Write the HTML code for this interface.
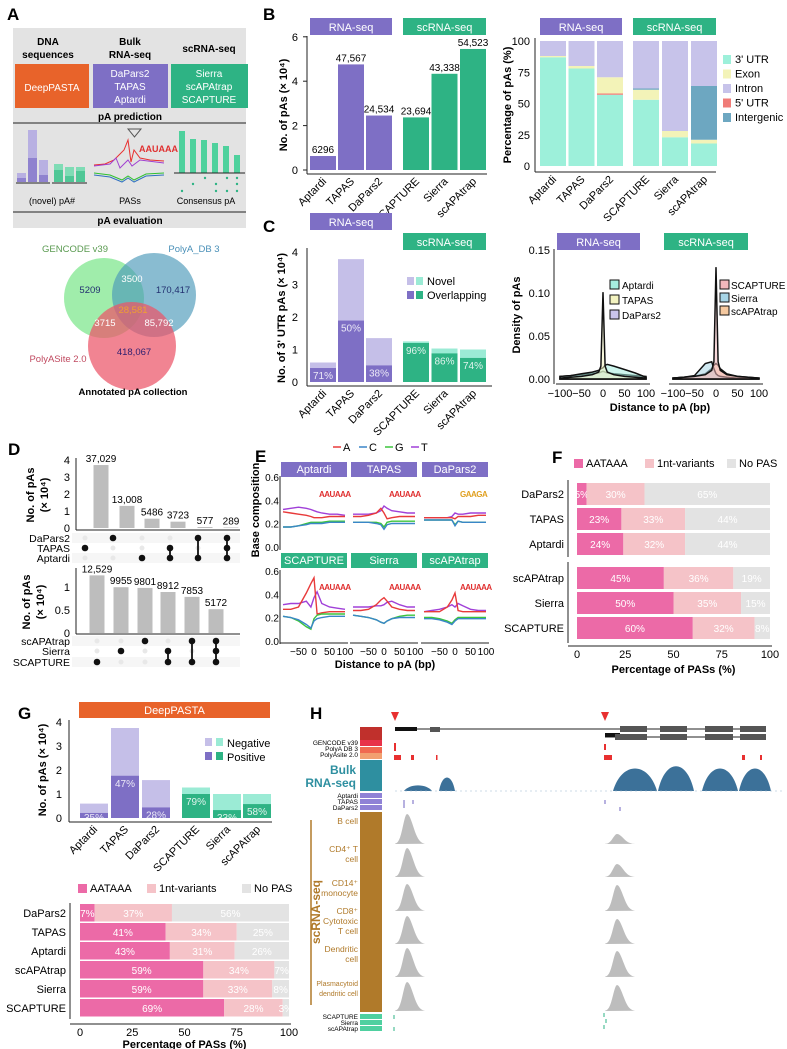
<!DOCTYPE html>
<html><head><meta charset="utf-8">
<style>
html,body{margin:0;padding:0;background:#fff;}
svg{display:block;font-family:"Liberation Sans",Arial,sans-serif;}
</style></head>
<body>
<svg id="fig" width="787" height="1049" viewBox="0 0 787 1049" xmlns="http://www.w3.org/2000/svg">
  <g>
    <text x="7" y="20" font-size="17" font-weight="bold">A</text>
    <rect x="13" y="28" width="233" height="200" fill="#e3e3e3"/>
    <text x="48" y="45" font-size="10" font-weight="bold" text-anchor="middle">DNA</text>
    <text x="48" y="58" font-size="10" font-weight="bold" text-anchor="middle">sequences</text>
    <text x="130" y="45" font-size="10" font-weight="bold" text-anchor="middle">Bulk</text>
    <text x="130" y="58" font-size="10" font-weight="bold" text-anchor="middle">RNA-seq</text>
    <text x="209" y="52" font-size="10" font-weight="bold" text-anchor="middle">scRNA-seq</text>
    <rect x="15" y="64" width="74" height="44" fill="#E8632A"/>
    <text x="52" y="91" font-size="10" fill="#fff" text-anchor="middle">DeepPASTA</text>
    <rect x="93" y="64" width="75" height="44" fill="#7E6FC5"/>
    <text x="130" y="77" font-size="10" fill="#fff" text-anchor="middle">DaPars2</text>
    <text x="130" y="90" font-size="10" fill="#fff" text-anchor="middle">TAPAS</text>
    <text x="130" y="103" font-size="10" fill="#fff" text-anchor="middle">Aptardi</text>
    <rect x="171" y="64" width="77" height="44" fill="#2EB384"/>
    <text x="209" y="77" font-size="10" fill="#fff" text-anchor="middle">Sierra</text>
    <text x="209" y="90" font-size="10" fill="#fff" text-anchor="middle">scAPAtrap</text>
    <text x="209" y="103" font-size="10" fill="#fff" text-anchor="middle">SCAPTURE</text>
    <text x="130" y="120" font-size="10" font-weight="bold" text-anchor="middle">pA prediction</text>
    <line x1="13" y1="123" x2="246" y2="123" stroke="#222" stroke-width="1"/>
    <line x1="13" y1="212" x2="246" y2="212" stroke="#222" stroke-width="1"/>
    <text x="130" y="224" font-size="10" font-weight="bold" text-anchor="middle">pA evaluation</text>
    <g>
      <rect x="17" y="173" width="9" height="9" fill="#b8b0e2"/><rect x="17" y="178" width="9" height="4" fill="#8f82cf"/>
      <rect x="28" y="130" width="9" height="52" fill="#b8b0e2"/><rect x="28" y="158" width="9" height="24" fill="#8f82cf"/>
      <rect x="39" y="160" width="9" height="22" fill="#b8b0e2"/><rect x="39" y="175" width="9" height="7" fill="#8f82cf"/>
      <rect x="54" y="164" width="9" height="18" fill="#7fdcb5"/><rect x="54" y="170" width="9" height="12" fill="#4fc796"/>
      <rect x="65" y="167" width="9" height="15" fill="#7fdcb5"/><rect x="65" y="176" width="9" height="6" fill="#4fc796"/>
      <rect x="76" y="167" width="9" height="15" fill="#7fdcb5"/><rect x="76" y="171" width="9" height="11" fill="#4fc796"/>
      <line x1="16" y1="183" x2="50" y2="183" stroke="#222"/><line x1="52" y1="183" x2="87" y2="183" stroke="#222"/>
      <text x="52" y="204" font-size="9" text-anchor="middle">(novel) pA#</text>
    </g>
    <g>
      <path d="M128 129 L141 129 L134.5 137 Z" fill="none" stroke="#555"/>
      <path d="M94 165 L105 164 L114 160 L118 156 L124 150 L128 140 L131 162 L134 150 L140 158 L150 160 L164 161" fill="none" stroke="#e83030" stroke-width="1"/>
      <path d="M94 166 L110 164 L116 158 L120 168 L128 160 L132 166 L140 160 L164 163" fill="none" stroke="#a040d0" stroke-width="1"/>
      <path d="M94 173 L110 175 L122 180 L128 176 L134 180 L146 174 L164 173" fill="none" stroke="#30c030" stroke-width="1"/>
      <path d="M94 175 L110 177 L122 182 L128 178 L134 182 L146 176 L164 175" fill="none" stroke="#3070c0" stroke-width="1"/>
      <text x="139" y="152" font-size="9" font-weight="bold" fill="#e03030">AAUAAA</text>
      <text x="130" y="204" font-size="9" text-anchor="middle">PASs</text>
    </g>
    <g>
      <rect x="179" y="131" width="6" height="42" fill="#4fd19d"/><rect x="190" y="139" width="6" height="34" fill="#4fd19d"/>
      <rect x="201" y="140" width="6" height="33" fill="#4fd19d"/><rect x="212" y="143" width="6" height="30" fill="#4fd19d"/>
      <rect x="223" y="146" width="6" height="27" fill="#4fd19d"/><rect x="234" y="155" width="6" height="18" fill="#4fd19d"/>
      <line x1="174" y1="173" x2="245" y2="173" stroke="#222"/>
      <g fill="#2EB384"><circle cx="205" cy="178" r="1.2"/><circle cx="227" cy="178" r="1.2"/><circle cx="237" cy="178" r="1.2"/><circle cx="193" cy="184" r="1.2"/><circle cx="216" cy="184" r="1.2"/><circle cx="237" cy="184" r="1.2"/><circle cx="182" cy="191" r="1.2"/><circle cx="216" cy="191" r="1.2"/><circle cx="227" cy="191" r="1.2"/><circle cx="237" cy="191" r="1.2"/></g>
      <text x="206" y="204" font-size="9" text-anchor="middle">Consensus pA</text>
    </g>
    <g>
      <circle cx="104" cy="298" r="40" fill="#8FEA9C" fill-opacity="0.85"/>
      <circle cx="154" cy="295" r="42" fill="#4A98B8" fill-opacity="0.65"/>
      <circle cx="132" cy="346" r="44" fill="#EC5468" fill-opacity="0.72"/>
      <text x="75" y="252" font-size="9.5" fill="#5a9a50" text-anchor="middle">GENCODE v39</text>
      <text x="194" y="252" font-size="9.5" fill="#4a90b8" text-anchor="middle">PolyA_DB 3</text>
      <text x="58" y="362" font-size="9.5" fill="#c04a60" text-anchor="middle">PolyASite 2.0</text>
      <text x="90" y="293" font-size="9.5" fill="#223070" text-anchor="middle">5209</text>
      <text x="132" y="282" font-size="9.5" fill="#fff" text-anchor="middle">3500</text>
      <text x="173" y="293" font-size="9.5" fill="#223070" text-anchor="middle">170,417</text>
      <text x="133" y="313" font-size="9.5" fill="#f0a030" text-anchor="middle">28,581</text>
      <text x="105" y="326" font-size="9.5" fill="#fff" text-anchor="middle">3715</text>
      <text x="159" y="326" font-size="9.5" fill="#fff" text-anchor="middle">85,792</text>
      <text x="134" y="355" font-size="9.5" fill="#302070" text-anchor="middle">418,067</text>
      <text x="133" y="395" font-size="9.5" font-weight="bold" text-anchor="middle">Annotated pA collection</text>
    </g>
  </g>
  <g id="dyn"></g>
</svg>
<script>
const NS='http://www.w3.org/2000/svg';
const root=document.getElementById('dyn');
function mk(tag,a,p){const e=document.createElementNS(NS,tag);for(const k in a)e.setAttribute(k,a[k]);(p||root).appendChild(e);return e;}
function tx(x,y,s,a,p){const e=mk('text',Object.assign({x:x,y:y},a||{}),p);e.textContent=s;return e;}

// ---------- data ----------
const methods=['Aptardi','TAPAS','DaPars2','SCAPTURE','Sierra','scAPAtrap'];
const bCounts=[6296,47567,24534,23694,43338,54523];
const bCountLabels=['6296','47,567','24,534','23,694','43,338','54,523'];
const bTicks=[0,2,4,6];
const regionNames=["3' UTR","5' UTR",'Exon','Intergenic','Intron'];
const regUTR3=[87,78,57,53,23,18];
const regUTR5=[0,0,1,0,0,0];
const regExon=[1,2,13,8,5,3];
const regInter=[0,0,0,1,0,43];
const regIntron=[12,20,29,38,72,36];
const pctTicks=[0,25,50,75,100];
const cTotal=[0.6,3.78,1.35,1.25,1.03,1.0];
const cOverlap=[0.43,1.89,0.51,1.2,0.88,0.74];
const cPctLabels=['71%','50%','38%','96%','86%','74%'];
const cTicks=[0,1,2,3,4];
const densX=[-100,-75,-50,-25,-10,-5,0,5,10,25,50,75,100];
const densAptardi=[0.003,0.004,0.006,0.008,0.010,0.012,0.013,0.016,0.017,0.015,0.011,0.007,0.002];
const densTAPAS=[0.001,0.002,0.003,0.005,0.008,0.015,0.101,0.015,0.008,0.005,0.003,0.002,0.001];
const densDaPars2=[0.003,0.004,0.005,0.006,0.007,0.008,0.009,0.008,0.007,0.006,0.005,0.004,0.003];
const densSCAPTURE=[0.001,0.002,0.003,0.005,0.010,0.020,0.130,0.020,0.010,0.005,0.003,0.002,0.001];
const densSierra=[0.001,0.002,0.004,0.018,0.020,0.012,0.006,0.004,0.003,0.002,0.001,0.001,0.000];
const densScAPAtrap=[0.001,0.002,0.003,0.006,0.012,0.016,0.018,0.016,0.012,0.006,0.003,0.002,0.001];
const densTicks=[0,0.05,0.10,0.15];
const distTicks=[-100,-50,0,50,100];
const upBulkCounts=[37029,13008,5486,3723,577,289];
const upBulkLabels=['37,029','13,008','5486','3723','577','289'];
const upBulkRows=['DaPars2','TAPAS','Aptardi'];
const upBulkSets=[[1],[0],[2],[1,2],[0,2],[0,1,2]];
const upScCounts=[12529,9955,9801,8912,7853,5172];
const upScLabels=['12,529','9955','9801','8912','7853','5172'];
const upScRows=['scAPAtrap','Sierra','SCAPTURE'];
const upScSets=[[2],[1],[0],[1,2],[0,2],[0,1,2]];
const baseX=[-100,-75,-50,-25,-10,0,10,25,50,75,100];
const baseA=[[0.31,0.30,0.29,0.28,0.27,0.26,0.26,0.26,0.27,0.27,0.27],[0.27,0.27,0.28,0.30,0.34,0.30,0.25,0.26,0.27,0.27,0.27],[0.26,0.26,0.26,0.26,0.26,0.25,0.27,0.27,0.27,0.28,0.28],[0.28,0.28,0.30,0.42,0.50,0.55,0.24,0.25,0.26,0.26,0.26],[0.27,0.27,0.28,0.32,0.36,0.38,0.35,0.30,0.28,0.27,0.27],[0.26,0.26,0.26,0.30,0.36,0.42,0.27,0.26,0.26,0.26,0.26]];
const baseC=[[0.18,0.18,0.19,0.20,0.21,0.21,0.21,0.21,0.22,0.22,0.22],[0.22,0.22,0.22,0.21,0.20,0.16,0.20,0.21,0.21,0.21,0.21],[0.24,0.24,0.24,0.24,0.24,0.19,0.23,0.22,0.22,0.22,0.22],[0.22,0.21,0.19,0.15,0.12,0.18,0.20,0.21,0.22,0.22,0.22],[0.23,0.22,0.21,0.19,0.17,0.16,0.18,0.20,0.21,0.21,0.21],[0.20,0.20,0.19,0.17,0.15,0.18,0.20,0.20,0.20,0.20,0.20]];
const baseG=[[0.18,0.18,0.19,0.21,0.22,0.22,0.22,0.22,0.23,0.23,0.23],[0.22,0.22,0.22,0.22,0.21,0.18,0.22,0.23,0.23,0.23,0.23],[0.24,0.24,0.24,0.24,0.24,0.20,0.23,0.22,0.22,0.22,0.22],[0.22,0.21,0.18,0.13,0.11,0.20,0.23,0.24,0.24,0.24,0.24],[0.23,0.22,0.21,0.19,0.17,0.16,0.18,0.20,0.22,0.23,0.23],[0.21,0.21,0.20,0.18,0.16,0.19,0.21,0.21,0.21,0.21,0.21]];
const baseT=[[0.33,0.34,0.35,0.34,0.33,0.32,0.31,0.30,0.29,0.29,0.28],[0.29,0.29,0.29,0.30,0.32,0.36,0.34,0.32,0.31,0.30,0.30],[0.26,0.26,0.26,0.26,0.27,0.30,0.29,0.29,0.30,0.30,0.30],[0.32,0.33,0.33,0.35,0.30,0.38,0.43,0.33,0.30,0.29,0.28],[0.30,0.30,0.30,0.31,0.31,0.32,0.34,0.35,0.32,0.30,0.30],[0.26,0.27,0.28,0.30,0.32,0.30,0.33,0.31,0.28,0.27,0.27]];
const baseTicks=[0,0.2,0.4,0.6];
const eOrder=['Aptardi','TAPAS','DaPars2','SCAPTURE','Sierra','scAPAtrap'];
const fRows=['DaPars2','TAPAS','Aptardi','scAPAtrap','Sierra','SCAPTURE'];
const fAAT=[5,23,24,45,50,60];
const fVar=[30,33,32,36,35,32];
const fNo=[65,44,44,19,15,8];
const gTotal=[0.6,3.75,1.58,1.27,1.0,1.0];
const gPositive=[0.21,1.76,0.44,1.0,0.33,0.58];
const gPctLabels=['35%','47%','28%','79%','33%','58%'];
const gRows=['DaPars2','TAPAS','Aptardi','scAPAtrap','Sierra','SCAPTURE'];
const gAAT=[7,41,43,59,59,69];
const gVar=[37,34,31,34,33,28];
const gNo=[56,25,26,7,8,3];
const hCellTypes=['B cell','CD4+ T cell','CD14+ monocyte','CD8+ Cytotoxic T cell','Dendritic cell','Plasmacytoid dendritic cell'];
const hPeak1=[30,29,27,28,29,29];
const hPeak2=[10,13,26,25,26,26];
const hBulk=[0.25,0.6,1.0,1.1,1.0,1.0];

const PUR='#7E6FC5',GRN='#2EB384',PUR_L='#C5BFE8',GRN_L='#9BEBD5';
const isBulk=i=>i<3;

function strip(x,y,w,h,label,color,name){
  const r=mk('rect',{x:x,y:y,width:w,height:h,fill:color});
  
  
  const t=tx(x+w/2,y+h-4,label,{'font-size':11,fill:'#fff','text-anchor':'middle'});
  
  
}
function yAxis(x,y1,y2,name){
  const l=mk('line',{x1:x,y1:y1,x2:x,y2:y2,stroke:'#222','stroke-width':1});
  
  
}
function xAxis(y,x1,x2,name){
  const l=mk('line',{x1:x1,y1:y,x2:x2,y2:y,stroke:'#222','stroke-width':1});
  
  
}
function rotLabel(x,y,s,name,size){
  const t=tx(x,y,s,{'font-size':size||11,'text-anchor':'end',transform:'rotate(-45 '+x+' '+y+')'});
  
  
}
function vTitle(x,y,s,name,size){
  const t=tx(x,y,s,{'font-size':size||11,'font-weight':'bold','text-anchor':'middle',transform:'rotate(-90 '+x+' '+y+')'});
  
  
}
function letter(x,y,s){
  const t=tx(x,y,s,{'font-size':17,'font-weight':'bold'});
  
  
}

// ---------- Panel B left ----------
letter(263,20,'B');
const barX=i=>isBulk(i)?310+28*i:403+28.5*(i-3);
const yB=v=>170-v/1e4*22.2;
strip(310,18,82,17,'RNA-seq',PUR,'strip-b-rnaseq');
strip(403,18,83,17,'scRNA-seq',GRN,'strip-b-scrnaseq');
yAxis(307,36,174,'b-y-axis');
xAxis(174,307,487,'b-x-axis');
bTicks.forEach(v=>{
  const yy=yB(v*1e4);
  const t=tx(298,yy+4,String(v),{'font-size':11,'text-anchor':'end'});
  
  
  const k=mk('line',{x1:303,y1:yy,x2:307,y2:yy,stroke:'#222'});
  
  
});
methods.forEach((m,i)=>{
  const r=mk('rect',{x:barX(i),y:yB(bCounts[i]),width:26,height:170-yB(bCounts[i]),fill:isBulk(i)?PUR:GRN});
  
  
  const t=tx(barX(i)+13,yB(bCounts[i])-3,bCountLabels[i],{'font-size':10,'text-anchor':'middle'});
  
  
  rotLabel(barX(i)+17,182,m,'b-x-label-'+m.toLowerCase());
});
vTitle(287,105,'No. of pAs (× 10⁴)','b-y-title');

// ---------- Panel B right ----------
const pX=i=>isBulk(i)?540+28.5*i:633+29*(i-3);
const yP=v=>166-v*1.25;
strip(540,18,82,17,'RNA-seq',PUR,'strip-b2-rnaseq');
strip(633,18,83,17,'scRNA-seq',GRN,'strip-b2-scrnaseq');
yAxis(535,38,172,'b2-y-axis');
xAxis(172,535,716,'b2-x-axis');
pctTicks.forEach(v=>{
  const t=tx(530,yP(v)+4,String(v),{'font-size':11,'text-anchor':'end'});
  
  
});
const regCols=['#9DF0DA','#F07C78','#F3F3B8','#6DA7C1','#C7C3EA'];
const regArrs=[regUTR3,regUTR5,regExon,regInter,regIntron];
methods.forEach((m,i)=>{
  let acc=0;
  regArrs.forEach((arr,k)=>{
    const v=arr[i];
    if(v<=0)return;
    const r=mk('rect',{x:pX(i),y:yP(acc+v),width:26,height:v*1.25,fill:regCols[k]});
    
    
    acc+=v;
  });
  rotLabel(pX(i)+17,180,m,'b2-x-label-'+m.toLowerCase());
});
vTitle(511,105,'Percentage of pAs (%)','b2-y-title');
const legOrder=[0,2,4,1,3];
const legNames=["3' UTR",'Exon','Intron',"5' UTR",'Intergenic'];
legOrder.forEach((k,j)=>{
  const r=mk('rect',{x:723,y:55+j*14.5,width:8,height:9,fill:regCols[k]});
  
  
  const t=tx(735,63+j*14.5,legNames[j],{'font-size':11});
  
  
});

// ---------- Panel C left ----------
letter(263,232,'C');
const yC=v=>382-v*32.5;
strip(310,213,82,17,'RNA-seq',PUR,'strip-c-rnaseq');
strip(403,233,83,17,'scRNA-seq',GRN,'strip-c-scrnaseq');
yAxis(307,248,386,'c-y-axis');
xAxis(386,307,492,'c-x-axis');
cTicks.forEach(v=>{
  const t=tx(298,yC(v)+4,String(v),{'font-size':11,'text-anchor':'end'});
  
  
});
methods.forEach((m,i)=>{
  const x=barX(i);
  const r1=mk('rect',{x:x,y:yC(cTotal[i]),width:26,height:382-yC(cTotal[i]),fill:isBulk(i)?PUR_L:GRN_L});
  
  
  const r2=mk('rect',{x:x,y:yC(cOverlap[i]),width:26,height:382-yC(cOverlap[i]),fill:isBulk(i)?PUR:GRN});
  
  
  const t=tx(x+13,Math.min(yC(cOverlap[i])+11,380),cPctLabels[i],{'font-size':10,fill:'#fff','text-anchor':'middle','fill-opacity':0.85});
  
  
  rotLabel(x+17,394,m,'c-x-label-'+m.toLowerCase());
});
vTitle(285,318,'No. of 3\' UTR pAs (× 10⁴)','c-y-title');
[['Novel',PUR_L,GRN_L],['Overlapping',PUR,GRN]].forEach((e,j)=>{
  const a=mk('rect',{x:407,y:277+j*14,width:7,height:8,fill:e[1]});
  
  
  const b=mk('rect',{x:416,y:277+j*14,width:7,height:8,fill:e[2]});
  
  
  const t=tx(427,285+j*14,e[0],{'font-size':11});
  
  
});

// ---------- Panel C right density ----------
strip(557,233,83,17,'RNA-seq',PUR,'strip-c2-rnaseq');
strip(664,233,84,17,'scRNA-seq',GRN,'strip-c2-scrnaseq');
const dX0=[560,673];
const xD=(v,p)=>dX0[p]+(v+100)/200*86;
const yD=v=>379-v/0.15*129;
yAxis(554,249,384,'c2-y-axis');
densTicks.forEach(v=>{
  const t=tx(550,yD(v)+4,v.toFixed(2),{'font-size':11,'text-anchor':'end'});
  
  
});
[0,1].forEach(p=>{
  xAxis(384,dX0[p]-4,dX0[p]+90,'c2-x-axis');
  distTicks.forEach(v=>{
    const t=tx(xD(v,p),397,v<0?'−'+(-v):String(v),{'font-size':11,'text-anchor':'middle'});
    
    
  });
});
function densPath(arr,p,fill,name){
  let d='M'+xD(densX[0],p)+' '+yD(0);
  densX.forEach((x,i)=>{d+=' L'+xD(x,p).toFixed(1)+' '+yD(arr[i]).toFixed(1);});
  d+=' L'+xD(100,p)+' '+yD(0)+' Z';
  const e=mk('path',{d:d,fill:fill,'fill-opacity':0.55,stroke:'#111','stroke-width':1.5});
  
  
}
densPath(densDaPars2,0,'#C9C4EC','density-dapars2');
densPath(densAptardi,0,'#A6EEE0','density-aptardi');
densPath(densTAPAS,0,'#F3F3C0','density-tapas');
densPath(densScAPAtrap,1,'#F5C9A0','density-scapatrap');
densPath(densSierra,1,'#A7D5E6','density-sierra');
densPath(densSCAPTURE,1,'#F2B8BC','density-scapture');
vTitle(520,315,'Density of pAs','c2-y-title');
const dT=tx(660,411,'Distance to pA (bp)',{'font-size':11,'font-weight':'bold','text-anchor':'middle'});


[['Aptardi','#A6EEE0'],['TAPAS','#F3F3C0'],['DaPars2','#C9C4EC']].forEach((e,j)=>{
  const r=mk('rect',{x:610,y:280+j*15,width:9,height:9,fill:e[1],stroke:'#111'});
  
  
  const t=tx(622,289+j*15,e[0],{'font-size':10});
  
  
});
[['SCAPTURE','#F2B8BC'],['Sierra','#A7D5E6'],['scAPAtrap','#F5C9A0']].forEach((e,j)=>{
  const r=mk('rect',{x:720,y:280+j*13,width:9,height:9,fill:e[1],stroke:'#111'});
  
  
  const t=tx(731,289+j*13,e[0],{'font-size':10});
  
  
});

// ---------- Panel D ----------
letter(8,455,'D');
function upset(counts,labels,rows,sets,y0,pxPerUnit,barC,dotC,rowY,ticks,prefix){
  counts.forEach((c,i)=>{
    const h=c/1e4*pxPerUnit;
    const r=mk('rect',{x:barC[i]-7.5,y:y0-h,width:15,height:h,fill:'#BDBDBD'});
    
    
    const t=tx(barC[i],y0-h-3,labels[i],{'font-size':10,'text-anchor':'middle'});
    
    
  });
  ticks.forEach(v=>{
    const t=tx(70,y0-v*pxPerUnit+4,String(v),{'font-size':11,'text-anchor':'end'});
    
    
  });
  rows.forEach((nm,k)=>{
    const bg=mk('rect',{x:72,y:rowY[k]-5,width:168,height:10,fill:k%2?'#fff':'#f6f6f6'});
    
    
    const t=tx(70,rowY[k]+4,nm,{'font-size':10.5,'text-anchor':'end'});
    
    
  });
  sets.forEach((s,i)=>{
    rows.forEach((nm,k)=>{
      const on=s.indexOf(k)>=0;
      const c=mk('circle',{cx:dotC[i],cy:rowY[k],r:on?3.3:2.5,fill:on?'#111':'#e8e8e8'});
      
      
    });
    if(s.length>1){
      const ys=s.map(k=>rowY[k]);
      const l=mk('line',{x1:dotC[i],x2:dotC[i],y1:Math.min(...ys),y2:Math.max(...ys),stroke:'#111','stroke-width':1.8});
      
      
    }
  });
}
yAxis(76,458,530,'d-upper-y-axis');
xAxis(530,76,240,'d-upper-x-axis');
upset(upBulkCounts,upBulkLabels,upBulkRows,upBulkSets,528,17,[101,127,152,178,205,231],[85,113,142,170,198,227],[538,548,558],[0,1,2,3,4],'upset-bulk');
vTitle(34,495,'No. of pAs','d-upper-y-title');
vTitle(48,495,'(× 10⁴)','d-upper-y-title-2');
yAxis(76,568,634,'d-lower-y-axis');
xAxis(634,76,240,'d-lower-x-axis');
upset(upScCounts,upScLabels,upScRows,upScSets,633,46,[97,121,145,168,192,216],[97,121,145,168,192,216],[641,651,662],[0,0.5,1],'upset-sc');
vTitle(30,602,'No. of pAs','d-lower-y-title');
vTitle(44,602,'(× 10⁴)','d-lower-y-title-2');

// ---------- Panel E ----------
letter(255,462,'E');
const eCols={A:'#E83A3A',C:'#3A86C8',G:'#3CC43C',T:'#A040D8'};
['A','C','G','T'].forEach((b,j)=>{
  const l=mk('line',{x1:333+j*26,x2:341+j*26,y1:447,y2:447,stroke:eCols[b],'stroke-width':1.5});
  
  
  const t=tx(343+j*26,451,b,{'font-size':11});
  
  
});
const eX0=[283,353,424];
const eRowZero=[548,642];
const xE=(v,c)=>eX0[c]+(v+100)/200*62;
const yE=(v,r)=>eRowZero[r]-v*116.7;
eOrder.forEach((nm,p)=>{
  const r=Math.floor(p/3),c=p%3;
  strip(eX0[c]-2,r?553:462,66,15,nm,r?GRN:PUR,'strip-e-'+nm.toLowerCase());
  const lg=tx(eX0[c]+36,r?590:497,nm==='DaPars2'?'GAAGA':'AAUAAA',{'font-size':8,'font-weight':'bold',fill:nm==='DaPars2'?'#e0a020':'#e03030','letter-spacing':'-0.5'});
  
  
  [['T',baseT],['A',baseA],['G',baseG],['C',baseC]].forEach(bb=>{
    const arr=bb[1][p];
    const d=baseX.map((x,i)=>(i?'L':'M')+xE(x,c).toFixed(1)+' '+yE(arr[i],r).toFixed(1)).join(' ');
    const e=mk('path',{d:d,fill:'none',stroke:eCols[bb[0]],'stroke-width':1.4});
    
    
  });
});
[0,1].forEach(r=>{
  yAxis(280,eRowZero[r]-72,eRowZero[r]+2,'e-y-axis');
  baseTicks.forEach(v=>{
    const t=tx(279,yE(v,r)+3,v.toFixed(1),{'font-size':10,'text-anchor':'end'});
    
    
  });
});
[0,1,2].forEach(c=>{
  xAxis(643,eX0[c]-3,eX0[c]+65,'e-x-axis');
  [-50,0,50,100].forEach(v=>{
    const t=tx(xE(v,c),655,v<0?'−'+(-v):String(v),{'font-size':10,'text-anchor':'middle'});
    
    
  });
});
vTitle(259,510,'Base composition','e-y-title');
const eT=tx(385,668,'Distance to pA (bp)',{'font-size':11,'font-weight':'bold','text-anchor':'middle'});



// ---------- stacked PAS charts (F & G-lower) ----------
const pasCols=['#EC6AA7','#F5C3C8','#E3E3E3'];
function pasChart(rows,a,b,c,x0,x1,rowY,rowH,axisX,axisYs,legY,legX,tickY,titleY,prefix){
  const sx=v=>x0+v/100*(x1-x0);
  rows.forEach((nm,i)=>{
    let acc=0;
    [a,b,c].forEach((arr,k)=>{
      const v=arr[i];
      const r=mk('rect',{x:sx(acc),y:rowY[i],width:sx(acc+v)-sx(acc),height:rowH,fill:pasCols[k]});
      
      
      const t=tx((sx(acc)+sx(acc+v))/2,rowY[i]+rowH/2+4,v+'%',{'font-size':10,fill:'#fff','text-anchor':'middle'});
      
      
      acc+=v;
    });
    const t=tx(axisX-4,rowY[i]+rowH/2+4,nm,{'font-size':11,'text-anchor':'end'});
    
    
  });
  axisYs.forEach(s=>yAxis(axisX,s[0],s[1],prefix+'-y-axis'));
  xAxis(tickY-12,axisX,x1+2,prefix+'-x-axis');
  pctTicks.forEach(v=>{
    const t=tx(sx(v),tickY,String(v),{'font-size':11,'text-anchor':'middle'});
    
    
  });
  const tt=tx((x0+x1)/2,titleY,'Percentage of PASs (%)',{'font-size':11,'font-weight':'bold','text-anchor':'middle'});
  
  
  ['AATAAA','1nt-variants','No PAS'].forEach((nm,k)=>{
    const r=mk('rect',{x:legX[k],y:legY-8,width:9,height:9,fill:pasCols[k]});
    
    
    const t=tx(legX[k]+12,legY,nm,{'font-size':11});
    
    
  });
}
letter(552,463,'F');
pasChart(fRows,fAAT,fVar,fNo,577,770,[483,508,533,567,592,617],22,568,[[480,557],[562,643]],467,[574,645,727],658,673,'f');
letter(18,719,'G');
pasChart(gRows,gAAT,gVar,gNo,80,289,[904,923,942,961,980,999],17.5,70,[[903,1019]],892,[78,147,242],1036,1048,'g');

// ---------- Panel G upper ----------
strip(79,702,191,16,'DeepPASTA','#E8632A','strip-g-deeppasta');
const gx=[80,111,142,182,213,243];
const yG=v=>818-v*24;
yAxis(69,720,822,'g-y-axis');
xAxis(822,69,272,'g-x-axis');
cTicks.forEach(v=>{
  const t=tx(62,yG(v)+4,String(v),{'font-size':11,'text-anchor':'end'});
  
  
});
methods.forEach((m,i)=>{
  const r1=mk('rect',{x:gx[i],y:yG(gTotal[i]),width:28,height:818-yG(gTotal[i]),fill:isBulk(i)?PUR_L:GRN_L});
  
  
  const r2=mk('rect',{x:gx[i],y:yG(gPositive[i]),width:28,height:818-yG(gPositive[i]),fill:isBulk(i)?PUR:GRN});
  
  
  const t=tx(gx[i]+14,Math.min(yG(gPositive[i])+11,821),gPctLabels[i],{'font-size':10,fill:'#fff','text-anchor':'middle','fill-opacity':0.85});
  
  
  rotLabel(gx[i]+18,830,m,'g-x-label-'+m.toLowerCase());
});
vTitle(46,770,'No. of pAs (× 10⁴)','g-y-title');
[['Negative',PUR_L,GRN_L],['Positive',PUR,GRN]].forEach((e,j)=>{
  const a=mk('rect',{x:205,y:738+j*14,width:7,height:8,fill:e[1]});
  
  
  const b=mk('rect',{x:216,y:738+j*14,width:7,height:8,fill:e[2]});
  
  
  const t=tx(227,747+j*14,e[0],{'font-size':11});
  
  
});

// ---------- Panel H ----------
letter(310,719,'H');
const hBlocks=[[727,13,'#C0302C'],[740,6,'#E8334A'],[747,6,'#F06A50'],[753,6,'#F2A070'],[760,31,'#2E8FA0'],[793,5,'#8F82D6'],[799,5,'#8F82D6'],[805,5,'#8F82D6'],[812,200,'#B07A2A'],[1014,5,'#4FD0A0'],[1020,5,'#4FD0A0'],[1026,5,'#4FD0A0']];
hBlocks.forEach(b=>{
  const r=mk('rect',{x:360,y:b[0],width:22,height:b[1],fill:b[2]});
  
  
});
[['GENCODE v39',745],['PolyA DB 3',751],['PolyAsite 2.0',757],['Aptardi',798],['TAPAS',804],['DaPars2',810],['SCAPTURE',1019],['Sierra',1025],['scAPAtrap',1031]].forEach(e=>{
  const t=tx(358,e[1],e[0],{'font-size':6.5,'text-anchor':'end'});
  
  
});
const bl1=tx(356,774,'Bulk',{'font-size':12,'font-weight':'bold',fill:'#2E8FA0','text-anchor':'end'});


const bl2=tx(356,787,'RNA-seq',{'font-size':12,'font-weight':'bold',fill:'#2E8FA0','text-anchor':'end'});


const scl=mk('line',{x1:311,x2:311,y1:820,y2:1005,stroke:'#B07A2A','stroke-width':1.5});


const sct=tx(320,912,'scRNA-seq',{'font-size':12,'font-weight':'bold',fill:'#B07A2A','text-anchor':'middle',transform:'rotate(-90 320 912)'});


const cellLines=[['B cell'],['CD4⁺ T','cell'],['CD14⁺','monocyte'],['CD8⁺','Cytotoxic','T cell'],['Dendritic','cell'],['Plasmacytoid','dendritic cell']];
const hRowBase=[844,877,911,944,977,1011];
cellLines.forEach((ls,i)=>{
  ls.forEach((s,j)=>{
    const t=tx(358,hRowBase[i]-20+(j-(ls.length-1)/2)*10,s,{'font-size':s.length>10?7:8.5,fill:'#B07A2A','text-anchor':'end'});
    
    
  });
});
// gene model
[395,605].forEach(x=>{
  const p=mk('path',{d:'M'+(x-4)+' 712 L'+(x+4)+' 712 L'+x+' 721 Z',fill:'#E83030'});
  
  
});
const gl=mk('line',{x1:395,x2:765,y1:729,y2:729,stroke:'#222','stroke-width':1});


const gl2=mk('line',{x1:605,x2:765,y1:737,y2:737,stroke:'#222','stroke-width':1});


[[395,729,22,4,'#111'],[430,727,10,5,'#555'],[620,726,27,6,'#555'],[660,726,27,6,'#555'],[705,726,28,6,'#555'],[740,726,26,6,'#555'],[605,735,15,4,'#111'],[615,734,32,6,'#555'],[660,734,27,6,'#555'],[705,734,28,6,'#555'],[740,734,26,6,'#555']].forEach(b=>{
  const r=mk('rect',{x:b[0],y:b[1]-(b[3]>4?0:2),width:b[2],height:b[3],fill:b[4]});
  
  
});
[[394,743,2,8],[394,755,7,5],[411,755,3,5],[436,755,1.5,5],[604,744,2,6],[604,755,8,5],[742,755,3,5],[760,755,2,5]].forEach(b=>{
  const r=mk('rect',{x:b[0],y:b[1],width:b[2],height:b[3],fill:'#E83030'});
  
  
});
// bulk coverage
const bulkCenters=[[418,14],[447,8],[635,22],[676,18],[720,18],[755,16]];
bulkCenters.forEach((c,i)=>{
  const w=c[1],h=hBulk[i]*30,by=791;
  const d='M'+(c[0]-w)+' '+by+' C'+(c[0]-w*0.6)+' '+(by-h)+' '+(c[0]+w*0.6)+' '+(by-h)+' '+(c[0]+w)+' '+by+' Z';
  const p=mk('path',{d:d,fill:'#3C7199'});
  
  
});
const bb=mk('line',{x1:395,x2:785,y1:791,y2:791,stroke:'#9ab8d0','stroke-width':0.6,'stroke-dasharray':'2 3'});


[[404,800],[413,800],[404,804],[605,800],[620,807]].forEach(p=>{
  const l=mk('line',{x1:p[0],x2:p[0],y1:p[1],y2:p[1]+4,stroke:'#6F63C0','stroke-width':1});
  
  
});
// single-cell peaks
hRowBase.forEach((by,i)=>{
  [[407,hPeak1[i]],[617,hPeak2[i]]].forEach(pk=>{
    const cx=pk[0],h=pk[1];
    let d='M'+(cx-12)+' '+by;
    for(let k=-12;k<=18;k+=1){const s=k<0?4:6;d+=' L'+(cx+k)+' '+(by-h*Math.exp(-(k*k)/(2*s*s))).toFixed(1);}
    d+=' Z';
    const p=mk('path',{d:d,fill:'#BDBDBD'});
    
    
  });
});
[[394,1015],[394,1027],[604,1013],[606,1019],[604,1025]].forEach(p=>{
  const l=mk('line',{x1:p[0],x2:p[0],y1:p[1],y2:p[1]+4,stroke:'#2EB384','stroke-width':1});
  
  
});
</script>
</body></html>
